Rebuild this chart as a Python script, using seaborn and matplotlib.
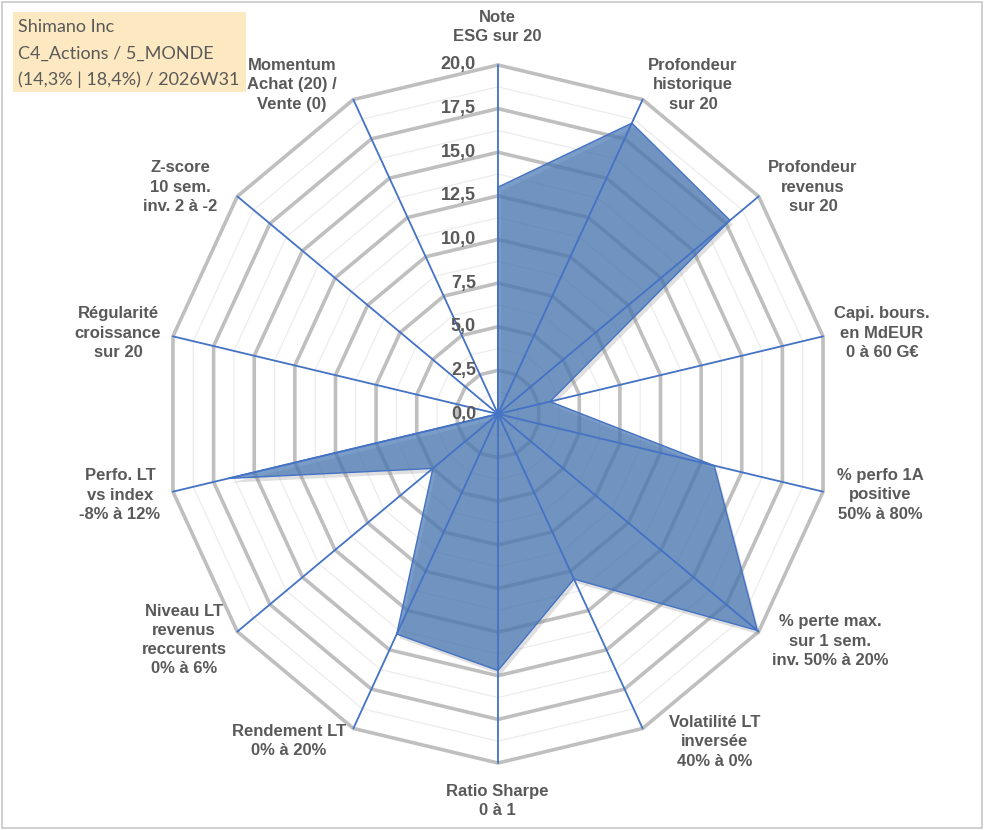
import numpy as np
import matplotlib
matplotlib.use("Agg")
import matplotlib.pyplot as plt
import matplotlib.patheffects as pe
from matplotlib.patches import Rectangle
import seaborn as sns
import pandas as pd

# ---------------- data ----------------
categories = [
    "Note\nESG sur 20",
    "Profondeur\nhistorique\nsur 20",
    "Profondeur\nrevenus\nsur 20",
    "Capi. bours.\nen MdEUR\n0 à 60 G€",
    "% perfo 1A\npositive\n50% à 80%",
    "% perte max.\nsur 1 sem.\ninv. 50% à 20%",
    "Volatilité LT\ninversée\n40% à 0%",
    "Ratio Sharpe\n0 à 1",
    "Rendement LT\n0% à 20%",
    "Niveau LT\nrevenus\nreccurents\n0% à 6%",
    "Perfo. LT\nvs index\n-8% à 12%",
    "Régularité\ncroissance\nsur 20",
    "Z-score\n10 sem.\ninv. 2 à -2",
    "Momentum\nAchat (20) /\nVente (0)",
]
values = [13.0, 18.5, 17.8, 3.2, 13.3, 19.9, 10.5, 14.7, 14.0, 5.0, 16.6, 0.0, 0.0, 0.0]
tick_values = [0.0, 2.5, 5.0, 7.5, 10.0, 12.5, 15.0, 17.5, 20.0]
tick_labels = ["0,0", "2,5", "5,0", "7,5", "10,0", "12,5", "15,0", "17,5", "20,0"]
title_lines = ["Shimano Inc", "C4_Actions / 5_MONDE", "(14,3% | 18,4%) / 2026W31"]

# ---------------- layout (pixels) ----------------
W, H = 991, 830
CX, CY = 498.0, 414.0          # centre of the radar in pixels
PX_X, PX_Y = 333.4 / 20, 349.0 / 20   # pixels per unit
label_centers_px = [(497, 27), (693, 85), (813, 187), (882, 333), (880, 495),
                    (830, 641), (715, 742), (497, 801), (289, 741), (184, 640),
                    (120, 495), (118, 333), (180, 187), (292, 85)]

def px2data(px, py):
    return (px - CX) / PX_X, (CY - py) / PX_Y

sns.set_theme(style="white")
plt.rcParams['font.family'] = ['Liberation Sans', 'DejaVu Sans']

fig = plt.figure(figsize=(W / 100, H / 100), dpi=100)
ax = fig.add_axes([0, 0, 1, 1])
x0, y1 = px2data(0, 0)
x1, y0 = px2data(W, H)
ax.set_xlim(x0, x1)
ax.set_ylim(y0, y1)
ax.axis("off")

n = len(categories)
theta = np.deg2rad(90 - np.arange(n) * 360.0 / n)
ct, st = np.cos(theta), np.sin(theta)

# rings
levels = np.arange(1.25, 20.001, 1.25)
for lv in levels:
    major = abs(lv / 2.5 - round(lv / 2.5)) < 1e-6
    xs = np.append(lv * ct, lv * ct[0])
    ys = np.append(lv * st, lv * st[0])
    ax.plot(xs, ys, color="#bfbfbf" if major else "#ececec",
            lw=2.6 if major else 0.9, zorder=1, solid_joinstyle="miter")

# data polygon
df = pd.DataFrame({"cat": categories, "value": values,
                   "x": np.array(values) * ct, "y": np.array(values) * st})
closed = pd.concat([df, df.iloc[[0]]], ignore_index=True)
poly = ax.fill(closed["x"], closed["y"], facecolor="#4676b3", alpha=0.72,
               edgecolor="none", zorder=2)[0]
poly.set_path_effects([pe.SimplePatchShadow(offset=(2, -3), shadow_rgbFace="#808080", alpha=0.25),
                       pe.Normal()])
sns.lineplot(data=closed, x="x", y="y", sort=False, estimator=None, ax=ax,
             color="#4472c4", lw=1.0, zorder=3)

# spokes
for c, s in zip(ct, st):
    ax.plot([0, 20 * c], [0, 20 * s], color="#4472c4", lw=1.3, zorder=4)

# radial tick labels
tx, _ = px2data(476, 0)
for v, t in zip(tick_values, tick_labels):
    ax.text(tx, v, t, ha="right", va="center", fontsize=13, fontweight="bold",
            color="#595959", zorder=5)

# category labels
for lab, (px, py) in zip(categories, label_centers_px):
    lx, ly = px2data(px, py)
    ax.text(lx, ly, lab, ha="center", va="center", multialignment="center",
            fontsize=12, fontweight="bold", color="#595959", linespacing=1.35, zorder=5)

# chart border
fig.patches.append(Rectangle((2 / W, 2 / H), 980 / W, 826 / H, transform=fig.transFigure,
                             fill=False, ec="#c8c8c8", lw=1.2, zorder=0))
# title box
fig.patches.append(Rectangle((13 / W, 1 - 92 / H), 233 / W, 80 / H, transform=fig.transFigure,
                             facecolor="#fde9c1", edgecolor="none", zorder=6))
for i, line in enumerate(title_lines):
    fig.text(18.5 / W, 1 - (27 + i * 26.5) / H, line, ha="left", va="center",
             fontsize=13, color="#595959", family=["Lato", "DejaVu Sans"], zorder=7)

fig.savefig("out.png", dpi=100, facecolor="white")
